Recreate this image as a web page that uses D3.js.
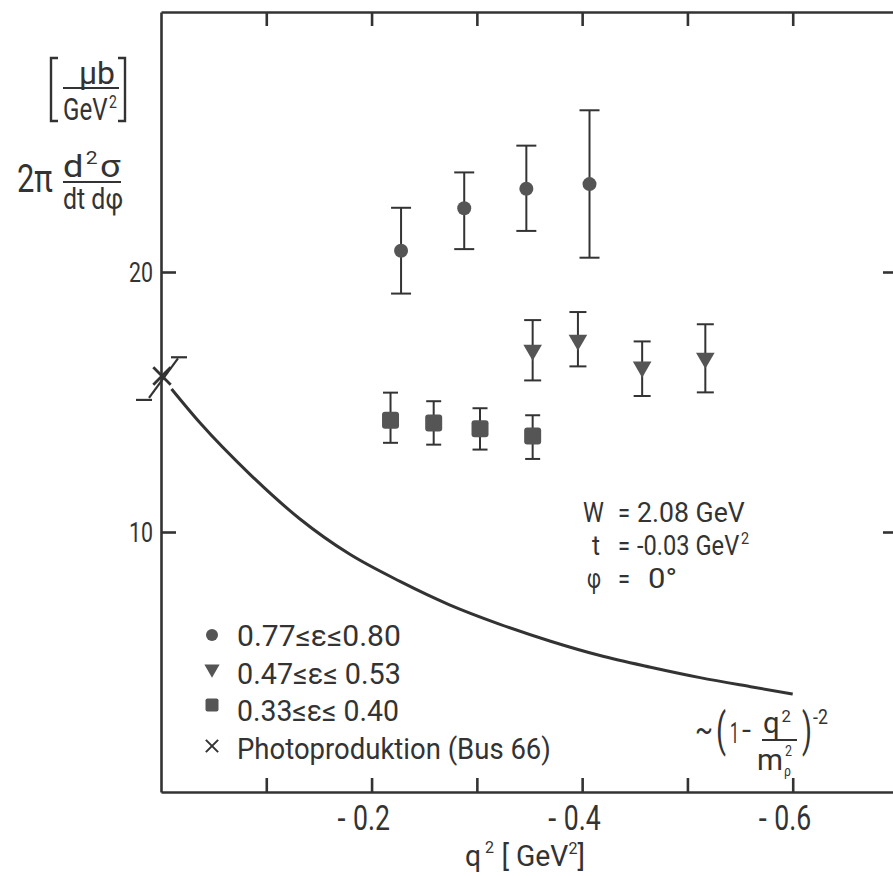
<!DOCTYPE html>
<html>
<head>
<meta charset="utf-8">
<script src="https://cdn.jsdelivr.net/npm/d3@7"></script>
<style>
    body { margin: 0; background: #fff; }
    svg text { font-family: Roboto, "DejaVu Sans", sans-serif; fill: #333; }
</style>
</head>
<body>
<svg id="chart" width="893" height="876"></svg>
<script>
// ticks
const xTicks = [-0.1, -0.2, -0.3, -0.4, -0.5, -0.6]
const xTickLabels = [-0.2, -0.4, -0.6]
const yTicks = [10, 20]

// 0.77 <= eps <= 0.80 (circles)
const highEpsQ = [-0.228, -0.288, -0.347, -0.407]
const highEpsY = [20.82, 22.45, 23.20, 23.38]
const highEpsLo = [19.17, 20.88, 21.58, 20.55]
const highEpsHi = [22.47, 23.83, 24.86, 26.22]

// 0.47 <= eps <= 0.53 (triangles)
const midEpsQ = [-0.353, -0.396, -0.457, -0.517]
const midEpsY = [17.0, 17.38, 16.35, 16.69]
const midEpsLo = [15.83, 16.37, 15.23, 15.37]
const midEpsHi = [18.15, 18.46, 17.33, 17.99]

// 0.33 <= eps <= 0.40 (squares)
const lowEpsQ = [-0.218, -0.259, -0.303, -0.353]
const lowEpsY = [14.30, 14.19, 13.97, 13.69]
const lowEpsLo = [13.43, 13.36, 13.17, 12.81]
const lowEpsHi = [15.36, 15.03, 14.76, 14.49]

// photoproduction (Bus 66)
const photoQ = 0
const photoY = 16.0
const photoLo = 15.08
const photoHi = 16.72

// ~(1 - q2/m2)^-2 curve
const curveQ = [-0.01, -0.037, -0.085, -0.132, -0.179, -0.227, -0.274, -0.322, -0.37, -0.417, -0.465, -0.512, -0.56, -0.6]
const curveY = [15.5, 14.2, 12.2, 10.5, 9.15, 8.1, 7.2, 6.45, 5.8, 5.25, 4.8, 4.4, 4.05, 3.77]

const legendLabels = ["0.77≤ε≤0.80", "0.47≤ε≤ 0.53", "0.33≤ε≤ 0.40", "Photoproduktion (Bus 66)"]

const INK = "#333",
    MARK = "#555"

let svg = d3.select("#chart"),
    x = d3.scaleLinear().domain([0, -0.7]).range([161, 898]),
    y = d3.scaleLinear().domain([0, 30]).range([792, 12])

// text is drawn at the origin and then moved, squeezed to the width seen in the scan
function put(sel, px, py, width, anchor) {
    sel.attr("text-anchor", anchor || "start")
    let w = sel.node().getBBox().width,
        s = width ? width / w : 0.85
    sel.attr("transform", `translate(${px}, ${py}) scale(${s}, 1)`)
    return sel
}

function txt(parent, size, content) {
    let t = parent.append("text").style("font-size", `${size}px`)
    if (content !== undefined) t.text(content)
    return t
}

// frame
svg.append("g")
    .attr("transform", `translate(0, ${y(0)})`)
    .call(d3.axisBottom(x).tickValues(xTicks).tickSize(-14).tickSizeOuter(0).tickFormat(""))
svg.append("g")
    .attr("transform", `translate(0, ${y(30)})`)
    .call(d3.axisTop(x).tickValues(xTicks).tickSize(-14).tickSizeOuter(0).tickFormat(""))
svg.append("g")
    .attr("transform", `translate(${x(0)}, 0)`)
    .call(d3.axisLeft(y).tickValues(yTicks).tickSize(-15).tickSizeOuter(0).tickFormat(""))
svg.append("g")
    .attr("transform", `translate(${x(-0.7)}, 0)`)
    .call(d3.axisRight(y).tickValues(yTicks).tickSize(-15).tickSizeOuter(0).tickFormat(""))

svg.selectAll(".domain, .tick line")
    .attr("stroke", INK)
    .attr("stroke-width", 2.6)

// tick labels
let xLab = svg.append("g")
xTickLabels.forEach(d => {
    put(txt(xLab, 35, Math.abs(d).toFixed(1)), x(d), 830, 37, "middle")
    put(txt(xLab, 35, "-"), x(d) - 26, 830, 8, "end")
})

let yLab = svg.append("g")
yTicks.forEach(d => put(txt(yLab, 27, d), 153, y(d) + 10, 24, "end"))

// axis titles
let xTitle = txt(svg, 30)
xTitle.append("tspan").text("q")
xTitle.append("tspan").attr("dx", 4).attr("dy", -13).style("font-size", "17px").text("2")
xTitle.append("tspan").attr("dx", 8).attr("dy", 13).text("[ GeV")
xTitle.append("tspan").attr("dy", -12).style("font-size", "17px").text("2")
xTitle.append("tspan").attr("dy", 12).text("]")
put(xTitle, 465, 866, 120)

let yTitle = svg.append("g")
yTitle.append("path")
    .attr("d", "M58,58 H51 V121 H58 M118,58 H125 V121 H118")
    .attr("fill", "none")
    .attr("stroke", INK)
    .attr("stroke-width", 2.4)
put(txt(yTitle, 31, "μb"), 79, 84, 36)
yTitle.append("line").attr("x1", 63).attr("x2", 119).attr("y1", 88).attr("y2", 88)
    .attr("stroke", INK).attr("stroke-width", 2.2)
let gev = txt(yTitle, 31)
gev.append("tspan").text("GeV")
gev.append("tspan").attr("dx", 2).attr("dy", -12).style("font-size", "18px").text("2")
put(gev, 63, 120, 54)
put(txt(yTitle, 38, "2π"), 17, 192, 36)
let dsig = txt(yTitle, 31)
dsig.append("tspan").text("d")
dsig.append("tspan").attr("dx", 2).attr("dy", -13).style("font-size", "18px").text("2")
dsig.append("tspan").attr("dx", 2).attr("dy", 13).text("σ")
put(dsig, 63, 177, 58)
yTitle.append("line").attr("x1", 63).attr("x2", 121).attr("y1", 182).attr("y2", 182)
    .attr("stroke", INK).attr("stroke-width", 2.2)
put(txt(yTitle, 29, "dt dφ"), 63, 209, 60)

// theory curve
svg.append("path")
    .datum(d3.zip(curveQ, curveY))
    .attr("fill", "none")
    .attr("stroke", INK)
    .attr("stroke-width", 3)
    .attr("d", d3.line().x(d => x(d[0])).y(d => y(d[1])).curve(d3.curveMonotoneX))

// error bars
function errorBars(qs, lo, hi, cap) {
    let g = svg.append("g").attr("stroke", INK).attr("stroke-width", 2)
    qs.forEach((q, i) => {
        g.append("line").attr("x1", x(q)).attr("x2", x(q)).attr("y1", y(lo[i])).attr("y2", y(hi[i]))
        g.append("line").attr("x1", x(q) - cap).attr("x2", x(q) + cap).attr("y1", y(lo[i])).attr("y2", y(lo[i]))
        g.append("line").attr("x1", x(q) - cap).attr("x2", x(q) + cap).attr("y1", y(hi[i])).attr("y2", y(hi[i]))
    })
}
errorBars(highEpsQ, highEpsLo, highEpsHi, 10)
errorBars(midEpsQ, midEpsLo, midEpsHi, 8.5)
errorBars(lowEpsQ, lowEpsLo, lowEpsHi, 7.5)

svg.append("g")
    .selectAll("circle")
    .data(d3.zip(highEpsQ, highEpsY))
    .join("circle")
    .attr("cx", d => x(d[0]))
    .attr("cy", d => y(d[1]))
    .attr("r", 7)
    .attr("fill", MARK)

let triangle = d3.symbol(d3.symbolTriangle, 150)
svg.append("g")
    .selectAll("path")
    .data(d3.zip(midEpsQ, midEpsY))
    .join("path")
    .attr("d", triangle)
    .attr("transform", d => `translate(${x(d[0])}, ${y(d[1])}) rotate(180)`)
    .attr("fill", MARK)

svg.append("g")
    .selectAll("rect")
    .data(d3.zip(lowEpsQ, lowEpsY))
    .join("rect")
    .attr("x", d => x(d[0]) - 8.5)
    .attr("y", d => y(d[1]) - 8.5)
    .attr("width", 17)
    .attr("height", 17)
    .attr("rx", 3)
    .attr("fill", MARK)

// photoproduction point, its error bar is drawn slanted in the scan
let photo = svg.append("g").attr("stroke", INK).attr("stroke-width", 2.2)
photo.append("line")
    .attr("x1", x(photoQ) - 12).attr("y1", y(photoLo) - 2)
    .attr("x2", x(photoQ) + 17).attr("y2", y(photoHi) + 1)
photo.append("line")
    .attr("x1", x(photoQ) + 10).attr("x2", x(photoQ) + 26)
    .attr("y1", y(photoHi)).attr("y2", y(photoHi))
photo.append("line")
    .attr("x1", x(photoQ) - 25).attr("x2", x(photoQ) - 9)
    .attr("y1", y(photoLo)).attr("y2", y(photoLo))
photo.append("path")
    .attr("d", d3.symbol(d3.symbolX, 200))
    .attr("transform", `translate(${x(photoQ) + 1}, ${y(photoY)})`)
    .attr("fill", "none")
    .attr("stroke-width", 2.8)

// legend
const legendWidths = [164, 164, 162, 314]
let legend = svg.append("g")
legendLabels.forEach((d, i) => put(txt(legend, 29, d), 237, 646 + i * 37.5, legendWidths[i]))
legend.append("circle").attr("cx", 212).attr("cy", 635).attr("r", 6).attr("fill", MARK)
legend.append("path").attr("d", d3.symbol(d3.symbolTriangle, 100))
    .attr("transform", "translate(212, 669) rotate(180)").attr("fill", MARK)
legend.append("rect").attr("x", 205.5).attr("y", 698.5).attr("width", 13).attr("height", 13)
    .attr("rx", 2).attr("fill", MARK)
legend.append("path").attr("d", d3.symbol(d3.symbolX, 100))
    .attr("transform", "translate(212, 746)").attr("fill", "none")
    .attr("stroke", INK).attr("stroke-width", 2)

// kinematics
let kin = svg.append("g")
put(txt(kin, 28, "W"), 583, 522, 21)
put(txt(kin, 28, "="), 624, 522, 12, "middle")
put(txt(kin, 28, "2.08 GeV"), 637, 522, 108)
put(txt(kin, 28, "t"), 592, 555, 8)
put(txt(kin, 28, "="), 624, 555, 12, "middle")
let tv = txt(kin, 28)
tv.append("tspan").text("-0.03 GeV")
tv.append("tspan").attr("dx", 2).attr("dy", -11).style("font-size", "17px").text("2")
put(tv, 637, 555, 112)
put(txt(kin, 28, "φ"), 587, 588, 14)
put(txt(kin, 28, "="), 624, 588, 12, "middle")
put(txt(kin, 28, "0°"), 648, 588, 29)

// formula ~(1 - q2/m2)^-2
let f = svg.append("g")
put(txt(f, 32, "~"), 695, 740, 18)
put(txt(f, 46, "("), 716, 746, 10)
put(txt(f, 30, "1"), 730, 743, 9)
put(txt(f, 30, "-"), 742, 740, 9)
let num = txt(f, 30)
num.append("tspan").text("q")
num.append("tspan").attr("dx", 2).attr("dy", -11).style("font-size", "17px").text("2")
put(num, 763, 733, 28)
f.append("line").attr("x1", 762).attr("x2", 797).attr("y1", 740).attr("y2", 740)
    .attr("stroke", INK).attr("stroke-width", 2)
put(txt(f, 30, "m"), 757, 770, 26)
put(txt(f, 14, "ρ"), 784, 776, 7)
put(txt(f, 15, "2"), 785, 756, 7)
put(txt(f, 46, ")"), 802, 746, 10)
put(txt(f, 21, "-2"), 813, 724, 15)
</script>
</body>
</html>
